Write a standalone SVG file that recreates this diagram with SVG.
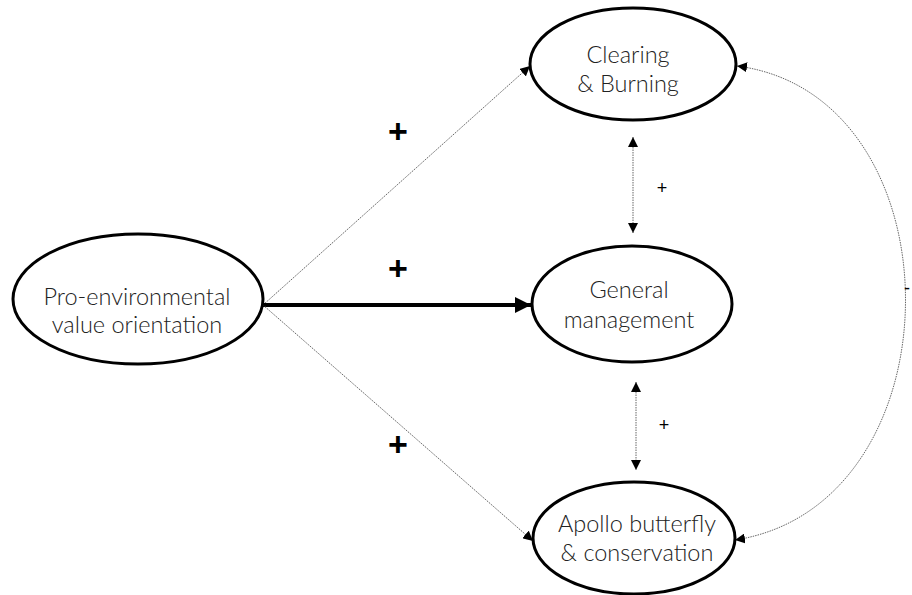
<svg xmlns="http://www.w3.org/2000/svg" width="912" height="595" viewBox="0 0 912 595">
<style>
.node ellipse{fill:#fff;stroke:#000;stroke-width:3}
.node text{font-family:Lato,"Open Sans","Liberation Sans",sans-serif;font-weight:300;font-size:23.5px;fill:#222;text-anchor:middle}
.dot{fill:none;stroke:#666;stroke-width:1;stroke-dasharray:1.5 1}
.sign{font-family:"Liberation Sans",Arial,sans-serif;fill:#000;text-anchor:middle}
.big{font-size:34px;font-weight:bold}
.small{font-size:18px}
</style>
<defs>
<marker id="ah" viewBox="0 0 10 10" refX="10" refY="5" markerWidth="10" markerHeight="10" markerUnits="userSpaceOnUse" orient="auto-start-reverse"><path d="M0,0 L10,5 L0,10 z" fill="#000"/></marker>
<marker id="ahb" viewBox="0 0 10 10" refX="10" refY="5" markerWidth="4" markerHeight="4" orient="auto"><path d="M0,0 L10,5 L0,10 z" fill="#000"/></marker>
</defs>
<g id="connectors">
<line class="dot" x1="263" y1="305" x2="530" y2="66" marker-end="url(#ah)"/>
<line x1="263" y1="305" x2="531" y2="305" stroke="#000" stroke-width="4" marker-end="url(#ahb)"/>
<line class="dot" x1="263" y1="305" x2="533" y2="541" marker-end="url(#ah)"/>
<line class="dot" x1="633" y1="137" x2="633" y2="233" marker-start="url(#ah)" marker-end="url(#ah)"/>
<line class="dot" x1="636" y1="382" x2="636" y2="470" marker-start="url(#ah)" marker-end="url(#ah)"/>
<path class="dot" d="M737,66 C962,95 962,505 735,540" marker-start="url(#ah)" marker-end="url(#ah)"/>
<text class="sign big" x="398" y="143">+</text>
<text class="sign big" x="398" y="280">+</text>
<text class="sign big" x="398" y="456">+</text>
<text class="sign small" x="662" y="194">+</text>
<text class="sign small" x="664" y="431">+</text>
<text class="sign small" x="907" y="294">-</text>
</g>
<g id="pro" class="node"><ellipse cx="138" cy="299" rx="125" ry="65"/><text x="137" y="305">Pro-environmental</text><text x="137" y="333">value orientation</text></g>
<g id="clearing" class="node"><ellipse cx="633" cy="64" rx="103" ry="56"/><text x="628" y="63">Clearing</text><text x="628" y="92">&amp; Burning</text></g>
<g id="general" class="node"><ellipse cx="632" cy="304" rx="100" ry="58"/><text x="629" y="298">General</text><text x="629" y="328">management</text></g>
<g id="apollo" class="node"><ellipse cx="634" cy="538" rx="101" ry="56"/><text x="637" y="532">Apollo butterfly</text><text x="637" y="561">&amp; conservation</text></g>
</svg>
